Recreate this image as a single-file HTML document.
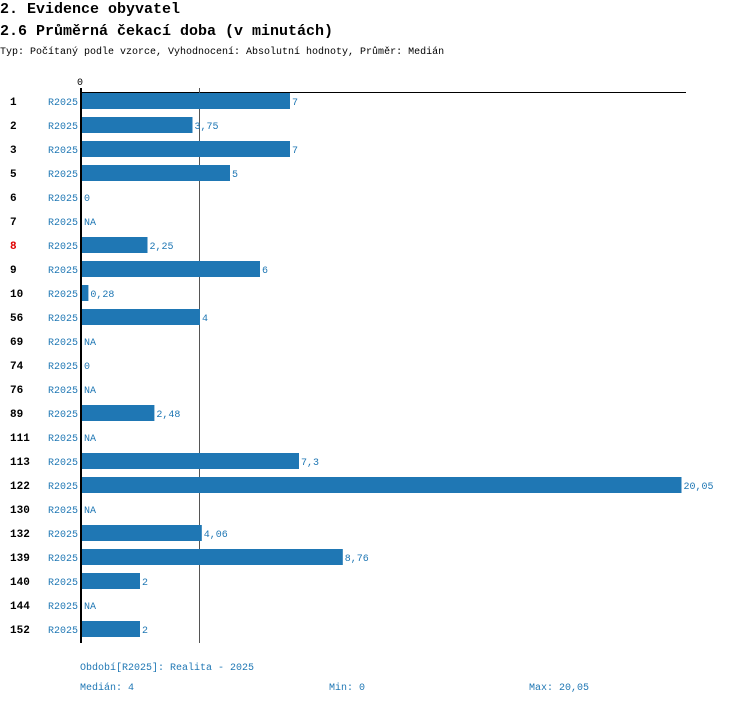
<!DOCTYPE html>
<html><head><meta charset="utf-8">
<style>
body{margin:0;background:#fff;width:750px;height:704px;overflow:hidden;font-family:"Liberation Mono",monospace}
svg{display:block}
</style></head>
<body>
<svg id="chart" width="750" height="704" xmlns="http://www.w3.org/2000/svg">
<text x="0" y="13" font-size="15" font-weight="bold" fill="#000">2. Evidence obyvatel</text>
<text x="0" y="35" font-size="15" font-weight="bold" fill="#000">2.6 Průměrná čekací doba (v minutách)</text>
<text x="0" y="54" font-size="10" fill="#000">Typ: Počítaný podle vzorce, Vyhodnocení: Absolutní hodnoty, Průměr: Medián</text>
<text x="77" y="85" font-size="10" fill="#000">0</text>
<g id="marks"></g>
<text x="80" y="670" font-size="10" fill="#1f77b4">Období[R2025]: Realita - 2025</text>
<text x="80" y="690" font-size="10" fill="#1f77b4">Medián: 4</text>
<text x="329" y="690" font-size="10" fill="#1f77b4">Min: 0</text>
<text x="529" y="690" font-size="10" fill="#1f77b4">Max: 20,05</text>
</svg>
<script>
const categories = ["1","2","3","5","6","7","8","9","10","56","69","74","76","89","111","113","122","130","132","139","140","144","152"];
const values = [7,3.75,7,5,0,null,2.25,6,0.28,4,null,0,null,2.48,null,7.3,20.05,null,4.06,8.76,2,null,2];
const valueLabels = ["7","3,75","7","5","0","NA","2,25","6","0,28","4","NA","0","NA","2,48","NA","7,3","20,05","NA","4,06","8,76","2","NA","2"];
const highlighted = ["8"];
const medianValue = 4;

const NS = "http://www.w3.org/2000/svg";
const x0 = 80, pxPerUnit = 30, rowTop = 93, rowStep = 24, barH = 16;
function xScale(v){ return x0 + v * pxPerUnit; }
function yRow(i){ return rowTop + i * rowStep; }
const g = document.getElementById("marks");
function mk(tag, attrs){ const e = document.createElementNS(NS, tag); for (const k in attrs) e.setAttribute(k, attrs[k]); g.appendChild(e); return e; }

const bottomY = yRow(categories.length - 1) + barH + 6;
const topLine = mk("line", {x1: x0, y1: 92.5, x2: 686, y2: 92.5, stroke: "#000", "stroke-width": 1});


const med = mk("line", {x1: xScale(medianValue) - 0.5, y1: 88, x2: xScale(medianValue) - 0.5, y2: bottomY, stroke: "#555", "stroke-width": 1});



categories.forEach((c, i) => {
  const y = yRow(i), cy = y + barH / 2 + 4;
  const lab = mk("text", {x: 10, y: cy, "font-size": 11, "font-weight": "bold", fill: highlighted.includes(c) ? "#e00000" : "#000"});
  lab.textContent = c;
  
  
  const per = mk("text", {x: 78, y: cy, "font-size": 10, fill: "#1f77b4", "text-anchor": "end"});
  per.textContent = "R2025";
  
  
  const v = values[i];
  let end = x0 + 2;
  if (v !== null && v > 0) {
    const b = mk("rect", {x: x0 + 2, y: y, width: xScale(v) - x0 - 2, height: barH, fill: "#1f77b4"});
    
    
    end = xScale(v);
  }
  const vl = mk("text", {x: end + 2, y: cy, "font-size": 10, fill: "#1f77b4"});
  vl.textContent = valueLabels[i];
  
  
});
const ax = mk("line", {x1: x0 + 1, y1: 88, x2: x0 + 1, y2: bottomY, stroke: "#000", "stroke-width": 2});


</script>
</body></html>
